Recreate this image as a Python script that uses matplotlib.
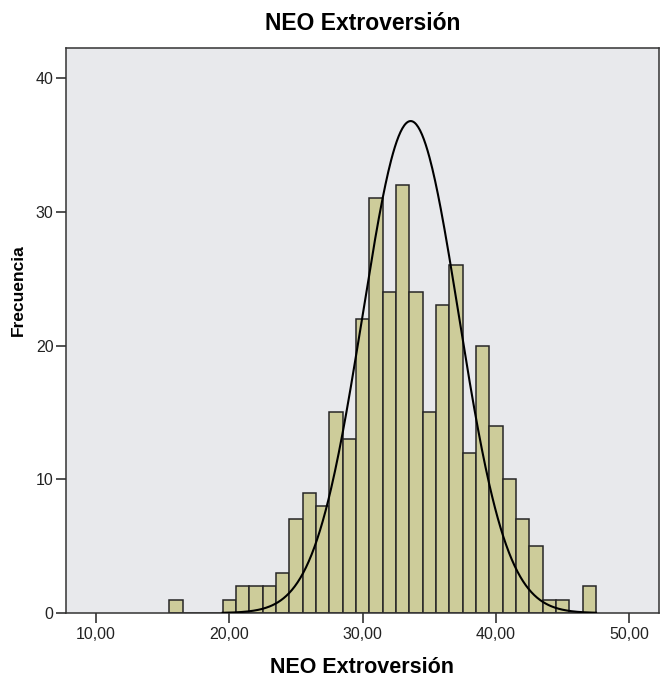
import numpy as np
import matplotlib
matplotlib.use("Agg")
import matplotlib.pyplot as plt
from matplotlib.ticker import FuncFormatter

plt.rcParams['font.family'] = ['Liberation Sans', 'DejaVu Sans']

# Histogram: bin centres (width 1) and counts
bin_centers = list(range(16, 48))
counts = [1, 0, 0, 0, 1, 2, 2, 2, 3, 7, 9, 8, 15, 13, 22, 31,
          24, 32, 24, 15, 23, 26, 12, 20, 14, 10, 7, 5, 1, 1, 0, 2]

# Normal curve parameters
curve_mean = 33.6
curve_sd = 3.6
n_total = sum(counts)

x_ticks = [10, 20, 30, 40, 50]
y_ticks = [0, 10, 20, 30, 40]

fig = plt.figure(figsize=(6.6, 6.79), dpi=100)
ax = fig.add_axes([0.1, 0.0972, 0.898, 0.832])
ax.set_facecolor('#E8E9EC')

ax.bar(bin_centers, counts, width=1.0, color='#CDCC9A',
       edgecolor='#262626', linewidth=1.1, zorder=2)

xs = np.linspace(19.5, 47.5, 400)
ys = n_total / (curve_sd * np.sqrt(2 * np.pi)) * np.exp(-0.5 * ((xs - curve_mean) / curve_sd) ** 2)
ax.plot(xs, ys, color='black', linewidth=1.5, zorder=3)

ax.set_xlim(7.75, 52.2)
ax.set_ylim(0, 42.25)
ax.set_xticks(x_ticks)
ax.set_yticks(y_ticks)
ax.xaxis.set_major_formatter(FuncFormatter(lambda v, p: f"{v:.2f}".replace('.', ',')))
ax.tick_params(direction='out', length=7, width=1.1, colors='#222222',
               labelsize=11.5, pad=2)
ax.tick_params(axis='x', pad=3)

for s in ax.spines.values():
    s.set_color('#333333')
    s.set_linewidth(1.1)

ax.set_title('NEO Extroversión', fontsize=16.5, fontweight='bold', pad=13)
ax.set_xlabel('NEO Extroversión', fontsize=15.5, fontweight='bold', labelpad=11)
ax.set_ylabel('Frecuencia', fontsize=12.5, fontweight='bold')
ax.yaxis.set_label_coords(-0.067, 0.572)

fig.savefig('out.png', dpi=100, facecolor='white')
